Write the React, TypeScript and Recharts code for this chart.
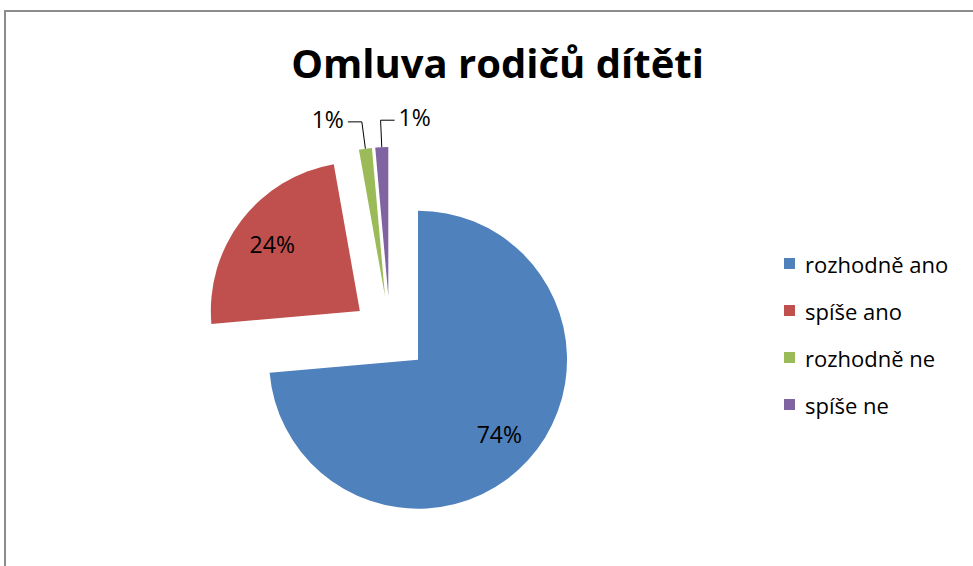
import { PieChart, Pie, Cell, Sector, Legend } from "recharts";

const categories = ["rozhodně ano", "spíše ano", "rozhodně ne", "spíše ne"];
const shares = [73.6, 23.6, 1.4, 1.4];
const colors = ["#4F81BD", "#C0504D", "#9BBB59", "#8064A2"];

const data = categories.map((name, i) => ({ name, value: shares[i] }));

const FONT = "'Open Sans', sans-serif";
const EXPLODE = 38;
const RADIUS = 149;

const shift = (midAngle: number, d: number) => {
  const rad = (midAngle * Math.PI) / 180;
  return { dx: d * Math.cos(rad), dy: -d * Math.sin(rad) };
};

function ExplodedSector(props: any) {
  const { dx, dy } = shift(props.midAngle, EXPLODE);
  return <Sector {...props} cx={props.cx + dx} cy={props.cy + dy} stroke="none" />;
}

function renderLabel(props: any) {
  const { cx, cy, midAngle, percent, index } = props;
  const off = shift(midAngle, EXPLODE);
  const ax = cx + off.dx;
  const ay = cy + off.dy;
  const txt = `${Math.round(percent * 100)}%`;
  if (percent > 0.05) {
    const p = shift(midAngle, RADIUS * 0.74);
    return (
      <text x={ax + p.dx} y={ay + p.dy} textAnchor="middle" dominantBaseline="central"
        fontFamily={FONT} fontSize={23} fill="#000">
        {txt}
      </text>
    );
  }
  const o = shift(midAngle, RADIUS);
  const sx = ax + o.dx;
  const sy = ay + o.dy;
  const k = shift(midAngle, 27);
  const kx = sx + k.dx;
  const ky = sy + k.dy;
  const dir = index % 2 === 0 ? -1 : 1;
  const ex = kx + dir * 14;
  return (
    <g>
      <polyline points={`${sx},${sy} ${kx},${ky} ${ex},${ky}`} fill="none" stroke="#000" strokeWidth={1} />
      <text x={ex + dir * 4} y={ky - 3} textAnchor={dir < 0 ? "end" : "start"} dominantBaseline="central"
        fontFamily={FONT} fontSize={23} fill="#000">
        {txt}
      </text>
    </g>
  );
}

function renderLegend() {
  return (
    <div style={{ fontFamily: FONT, fontSize: 22, color: "#000" }}>
      {categories.map((c, i) => (
        <div key={c} style={{ height: 47, display: "flex", alignItems: "center" }}>
          <span style={{ width: 11, height: 11, background: colors[i], display: "inline-block", marginRight: 10 }} />
          <span>{c}</span>
        </div>
      ))}
    </div>
  );
}

export default function App() {
  return (
    <div style={{ position: "absolute", left: 0, top: 0, width: 973, height: 566, overflow: "hidden", background: "#fff" }}>
      <div style={{ position: "absolute", left: 4, top: 10, width: 1000, height: 600, border: "2px solid #8c8c8c", boxSizing: "border-box" }} />
      <div style={{ position: "absolute", left: 0, top: 35, width: 995, textAlign: "center", fontFamily: FONT, fontWeight: 700, fontSize: 40, color: "#000" }}>
        Omluva rodičů dítěti
      </div>
      <div style={{ position: "absolute", left: 0, top: 0 }}>
        <PieChart width={973} height={566}>
          <Pie
            data={data}
            dataKey="value"
            nameKey="name"
            cx={385}
            cy={329}
            outerRadius={RADIUS}
            startAngle={90}
            endAngle={-270}
            shape={ExplodedSector}
            inactiveShape={ExplodedSector}
            activeShape={ExplodedSector}
            label={renderLabel}
            labelLine={false}
            isAnimationActive={false}
            stroke="none"
          >
            {data.map((d, i) => (
              <Cell key={d.name} fill={colors[i]} />
            ))}
          </Pie>
          <Legend
            layout="vertical"
            content={renderLegend}
            wrapperStyle={{ left: 784, top: 240, right: "auto", bottom: "auto", width: 190 }}
          />
        </PieChart>
      </div>
    </div>
  );
}
